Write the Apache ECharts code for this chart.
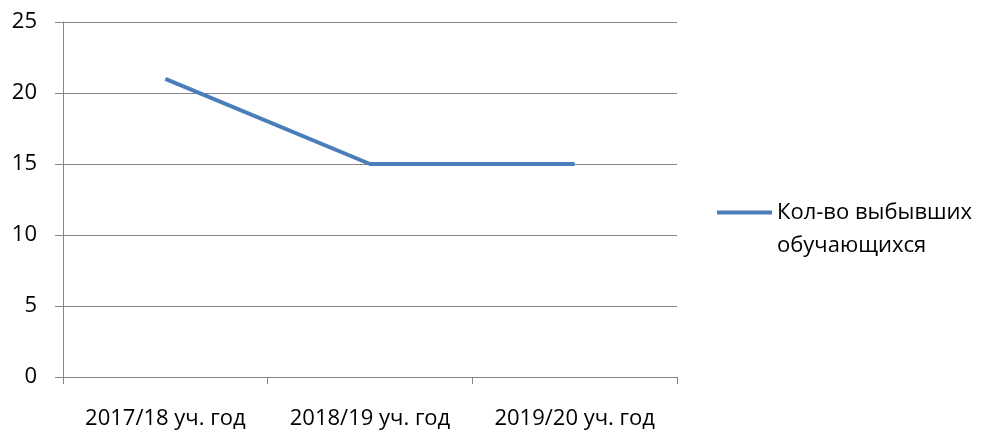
<!DOCTYPE html>
<html>
<head>
<meta charset="utf-8">
<script src="https://cdn.jsdelivr.net/npm/echarts@6/dist/echarts.min.js"></script>
<style>
  html, body { margin: 0; padding: 0; background: #fff; }
  #chart { width: 983px; height: 434px; }
</style>
</head>
<body>
<div id="chart"></div>
<script>
var categories = ['2017/18 уч. год', '2018/19 уч. год', '2019/20 уч. год'];
var seriesName = 'Кол-во выбывших\nобучающихся';
var dropouts = [21, 15, 15];

var myChart = echarts.init(document.getElementById('chart'));
var fontFamily = '"Open Sans", "Liberation Sans", sans-serif';

var option = {
  animation: false,
  textStyle: { fontFamily: fontFamily },
  grid: { left: 63, right: 306, top: 22, bottom: 57 },
  legend: {
    data: [seriesName],
    left: 712,
    top: 158,
    icon: 'rect',
    itemWidth: 55,
    itemHeight: 4,
    itemGap: 6,
    // blank first line so the line icon sits level with the first text line
    formatter: function (name) { return '\n' + name; },
    textStyle: {
      fontSize: 22,
      color: '#000',
      lineHeight: 33
    }
  },
  xAxis: {
    type: 'category',
    data: categories,
    boundaryGap: true,
    axisLine: { lineStyle: { color: '#868686', width: 1 } },
    axisTick: { show: true, interval: 0, length: 7, lineStyle: { color: '#868686' } },
    axisLabel: { color: '#000', fontSize: 22, margin: 31, interval: 0, hideOverlap: false },
    splitLine: { show: false }
  },
  yAxis: {
    type: 'value',
    min: 0,
    max: 25,
    interval: 5,
    axisLine: { show: true, lineStyle: { color: '#868686', width: 1 } },
    axisTick: { show: true, length: 8, lineStyle: { color: '#868686' } },
    axisLabel: { color: '#000', fontSize: 22, margin: 26 },
    splitLine: { lineStyle: { color: '#868686', width: 1 } }
  },
  series: [{
    name: seriesName,
    type: 'line',
    data: dropouts,
    symbol: 'none',
    itemStyle: { color: '#4a7ebb' },
    lineStyle: { color: '#4a7ebb', width: 4 }
  }]
};

myChart.setOption(option);
</script>
</body>
</html>
